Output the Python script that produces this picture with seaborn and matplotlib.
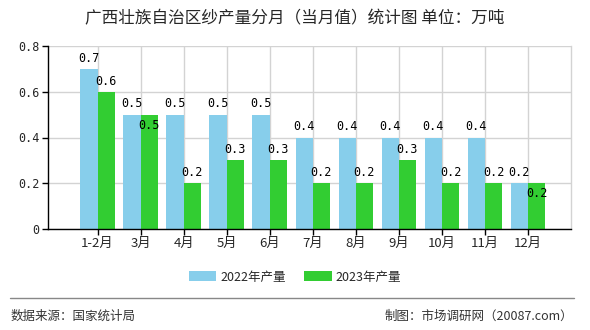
import matplotlib
matplotlib.use("Agg")
import matplotlib.pyplot as plt
import seaborn as sns
import pandas as pd
from matplotlib.patches import Patch

categories = ["1-2月", "3月", "4月", "5月", "6月", "7月", "8月", "9月", "10月", "11月", "12月"]
series_names = ["2022年产量", "2023年产量"]
values_2022 = [0.7, 0.5, 0.5, 0.5, 0.5, 0.4, 0.4, 0.4, 0.4, 0.4, 0.2]
values_2023 = [0.6, 0.5, 0.2, 0.3, 0.3, 0.2, 0.2, 0.3, 0.2, 0.2, 0.2]
yticks = [0, 0.2, 0.4, 0.6, 0.8]
ytick_labels = ["0", "0.2", "0.4", "0.6", "0.8"]
title = "广西壮族自治区纱产量分月（当月值）统计图 单位：万吨"
source_text = "数据来源：国家统计局"
credit_text = "制图：市场调研网（20087.com）"
colors = ["#87CEEB", "#32CD32"]

sns.set_theme(style="white")
plt.rcParams['font.family'] = ['DejaVu Sans Mono', 'Noto Sans CJK SC']

df = pd.DataFrame({
    "month": categories * 2,
    "value": values_2022 + values_2023,
    "series": [series_names[0]] * len(categories) + [series_names[1]] * len(categories),
})

fig = plt.figure(figsize=(5.9, 3.3), dpi=100)
ax = fig.add_axes([48 / 590, 1 - 229 / 330, (571 - 48) / 590, (229 - 46) / 330])

sns.barplot(data=df, x="month", y="value", hue="series", order=categories,
            hue_order=series_names, palette=colors, width=0.8, saturation=1,
            ax=ax, legend=False, zorder=2)
for p in ax.patches:
    p.set_edgecolor("none")

ax.set_xlim(-1.15, 11.0)
ax.set_ylim(0, 0.8)
ax.set_yticks(yticks)
ax.set_yticklabels(ytick_labels, fontsize=8.5, family=['DejaVu Sans Mono'])
ax.set_xticks(range(len(categories)))
ax.set_xticklabels(categories, fontsize=9.5, family=['Noto Sans CJK SC'])
ax.set_xlabel("")
ax.set_ylabel("")

ax.grid(True, axis="both", color="#d3d3d3", linewidth=1, zorder=0)
ax.set_axisbelow(True)
ax.spines["top"].set_visible(False)
ax.spines["right"].set_visible(True)
ax.spines["right"].set_color("#d3d3d3")
ax.spines["right"].set_linewidth(1)
ax.spines["left"].set_color("black")
ax.spines["bottom"].set_color("black")
ax.spines["left"].set_linewidth(1)
ax.spines["bottom"].set_linewidth(1)
ax.tick_params(axis="both", which="both", direction="out", length=4, width=1,
               color="black", left=True, bottom=True, pad=2)

# value labels
for ci, container in enumerate(ax.containers):
    for i, bar in enumerate(container):
        v = values_2022[i] if ci == 0 else values_2023[i]
        x = bar.get_x() + bar.get_width() / 2
        inside = ci == 1 and values_2023[i] == values_2022[i]
        if inside:
            ax.annotate(f"{v:g}", (x, v), xytext=(0, -3), textcoords="offset points",
                        ha="center", va="top", fontsize=8.5, color="black")
        else:
            ax.annotate(f"{v:g}", (x, v), xytext=(0, 3), textcoords="offset points",
                        ha="center", va="bottom", fontsize=8.5, color="black")

fig.text(0.5, 1 - 19 / 330, title, ha="center", va="center", fontsize=12,
         family=['Noto Sans CJK SC'])

handles = [Patch(facecolor=c, edgecolor="none") for c in colors]
fig.legend(handles, series_names, loc="center", bbox_to_anchor=(0.5, 1 - 277 / 330),
           ncol=2, frameon=False, prop={'family': 'Noto Sans CJK SC', 'size': 9},
           handlelength=2.2, handleheight=0.9, columnspacing=1.5, handletextpad=0.3)

fig.add_artist(plt.Line2D([10 / 590, 574 / 590], [1 - 298 / 330] * 2,
                          transform=fig.transFigure, color="#888888", linewidth=1))
fig.text(11 / 590, 1 - 316 / 330, source_text, ha="left", va="center", fontsize=9,
         color="#333333", family=['Noto Sans CJK SC'])
fig.text(573 / 590, 1 - 316 / 330, credit_text, ha="right", va="center", fontsize=9,
         color="#333333", family=['Noto Sans CJK SC', 'DejaVu Sans Mono'])

fig.savefig("out.png", dpi=100, facecolor="white")
